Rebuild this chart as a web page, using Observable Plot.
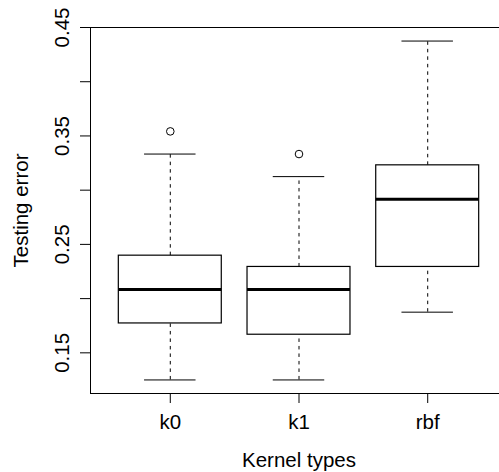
<!DOCTYPE html>
<html>
<head>
<meta charset="utf-8">
<script src="https://cdn.jsdelivr.net/npm/d3@7"></script>
<script src="https://cdn.jsdelivr.net/npm/@observablehq/plot@0.6"></script>
<style>
  html, body { margin: 0; padding: 0; background: white; overflow: hidden; }
  #chart { width: 499px; height: 472px; overflow: hidden; }
</style>
</head>
<body>
<div id="chart"></div>
<script>
const categories = ["k0", "k1", "rbf"];
const lowerWhisker = [0.125, 0.125, 0.1875];
const q1 = [0.1771, 0.1667, 0.2292];
const median = [0.2083, 0.2083, 0.2917];
const q3 = [0.2396, 0.2292, 0.3229];
const upperWhisker = [0.3333, 0.3125, 0.4375];
const outlierKernel = ["k0", "k1"];
const outlierValue = [0.3542, 0.3333];
const yTicks = [0.15, 0.20, 0.25, 0.30, 0.35, 0.40, 0.45];
const yLabelValues = [0.15, 0.25, 0.35, 0.45];
const yLabelTexts = ["0.15", "0.25", "0.35", "0.45"];

const boxes = categories.map((k, i) => ({
  pos: i + 1, kernel: k,
  lo: lowerWhisker[i], q1: q1[i], med: median[i], q3: q3[i], hi: upperWhisker[i]
}));
const outliers = outlierKernel.map((k, i) => ({pos: categories.indexOf(k) + 1, value: outlierValue[i]}));
const yLabels = yLabelValues.map((v, i) => ({value: v, text: yLabelTexts[i]}));

const half = 0.4, cap = 0.2;
const FS = 20.5;
const font = "'Liberation Sans', Arial, Helvetica, sans-serif";

const chart = Plot.plot({
  width: 499,
  height: 472,
  marginLeft: 90,
  marginRight: -8,
  marginTop: 27,
  marginBottom: 79,
  style: {background: "white", color: "black", fontFamily: font, fontSize: FS + "px"},
  x: {type: "linear", domain: [0.38, 3.62], axis: null},
  y: {domain: [0.1125, 0.45], axis: null},
  marks: [
    // whiskers (dashed)
    Plot.ruleX(boxes, {x: "pos", y1: "q3", y2: "hi", stroke: "black", strokeWidth: 1, strokeDasharray: "3.5,4"}),
    Plot.ruleX(boxes, {x: "pos", y1: "lo", y2: "q1", stroke: "black", strokeWidth: 1, strokeDasharray: "3.5,4"}),
    // whisker caps
    Plot.ruleY(boxes, {y: "hi", x1: d => d.pos - cap, x2: d => d.pos + cap, stroke: "black", strokeWidth: 1}),
    Plot.ruleY(boxes, {y: "lo", x1: d => d.pos - cap, x2: d => d.pos + cap, stroke: "black", strokeWidth: 1}),
    // boxes
    Plot.rect(boxes, {x1: d => d.pos - half, x2: d => d.pos + half, y1: "q1", y2: "q3", fill: "white", stroke: "black", strokeWidth: 1.2}),
    // medians
    Plot.ruleY(boxes, {y: "med", x1: d => d.pos - half, x2: d => d.pos + half, stroke: "black", strokeWidth: 3}),
    // outliers
    Plot.dot(outliers, {x: "pos", y: "value", r: 3.8, stroke: "black", strokeWidth: 1, fill: "none"}),
    // frame
    Plot.frame({stroke: "black", strokeWidth: 1}),
    // y ticks
    Plot.axisY(yTicks, {ticks: yTicks, tickSize: 10, tickFormat: () => "", label: null, stroke: "black"}),
    Plot.text(yLabels, {y: "value", text: "text", frameAnchor: "left", dx: -21.7, rotate: -90, textAnchor: "middle", lineAnchor: "bottom", fontSize: FS, fill: "black"}),
    // x ticks
    Plot.axisX({ticks: [1, 2, 3], tickSize: 10, tickPadding: 11, tickFormat: i => categories[i - 1], label: null, fontSize: FS, stroke: "black", fill: "black"}),
    // axis titles
    Plot.text(["Testing error"], {frameAnchor: "left", dx: -63, rotate: -90, textAnchor: "middle", lineAnchor: "bottom", fontSize: FS, fill: "black"}),
    Plot.text(["Kernel types"], {frameAnchor: "bottom", dy: 73.5, textAnchor: "middle", lineAnchor: "bottom", fontSize: FS, fill: "black"})
  ]
});
document.getElementById("chart").appendChild(chart);
</script>
</body>
</html>
